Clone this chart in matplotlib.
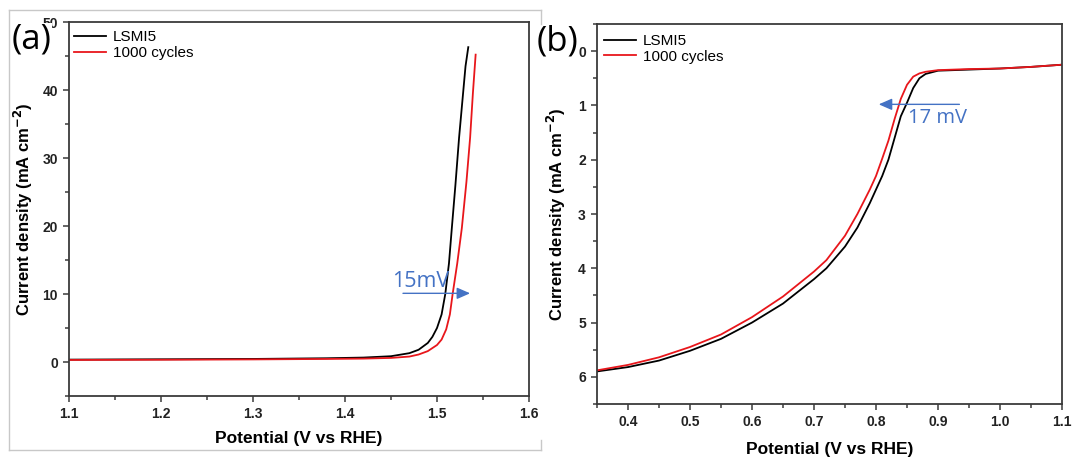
import matplotlib.pyplot as plt
from matplotlib.lines import Line2D
from matplotlib.ticker import MultipleLocator

plt.rcParams['font.family'] = ['Liberation Sans', 'DejaVu Sans']

# panel (a): OER polarisation
pot_a_lsmi = [1.10, 1.20, 1.30, 1.38, 1.42, 1.45, 1.47, 1.48, 1.49, 1.495, 1.50,
              1.505, 1.509, 1.513, 1.516, 1.520, 1.524, 1.528, 1.531, 1.534]
cur_a_lsmi = [0.35, 0.40, 0.45, 0.55, 0.65, 0.85, 1.3, 1.8, 2.8, 3.7, 5.0,
              7.0, 10.0, 14.5, 19.5, 26.0, 33.0, 39.0, 43.5, 46.3]
pot_a_cyc = [1.10, 1.20, 1.30, 1.38, 1.42, 1.45, 1.47, 1.48, 1.49, 1.50, 1.505,
             1.51, 1.514, 1.517, 1.522, 1.527, 1.532, 1.536, 1.539, 1.542]
cur_a_cyc = [0.30, 0.33, 0.38, 0.45, 0.50, 0.60, 0.80, 1.1, 1.6, 2.5, 3.3,
             4.8, 7.0, 10.0, 14.5, 19.7, 26.5, 33.0, 39.5, 45.2]

# panel (b): ORR polarisation (magnitude, axis inverted)
pot_b = [0.35, 0.40, 0.45, 0.50, 0.55, 0.60, 0.65, 0.70, 0.72, 0.75, 0.77, 0.79,
         0.80, 0.81, 0.82, 0.83, 0.84, 0.85, 0.86, 0.87, 0.88, 0.90, 0.95, 1.00,
         1.05, 1.10]
cur_b_lsmi = [5.90, 5.82, 5.70, 5.52, 5.30, 5.00, 4.65, 4.20, 4.00, 3.60, 3.25, 2.80,
              2.55, 2.30, 2.00, 1.60, 1.20, 0.95, 0.68, 0.50, 0.42, 0.36, 0.34, 0.32,
              0.29, 0.25]
cur_b_cyc = [5.88, 5.78, 5.64, 5.45, 5.22, 4.90, 4.52, 4.06, 3.85, 3.40, 3.00, 2.55,
             2.30, 1.98, 1.65, 1.25, 0.88, 0.62, 0.47, 0.41, 0.38, 0.35, 0.33, 0.32,
             0.29, 0.25]

labels = ['LSMI5', '1000 cycles']
colors = ['black', '#e8161b']
arrow_blue = '#4472c4'

W, H = 1072, 457
fig = plt.figure(figsize=(W / 100, H / 100), dpi=100)


def fx(px):
    return px / W


def fy(py):
    return 1 - py / H


def style(ax):
    for s in ax.spines.values():
        s.set_color('#3a3a3a')
        s.set_linewidth(1.3)
    ax.tick_params(which='both', direction='out', color='#3a3a3a', width=1.1,
                   labelsize=10, pad=4, top=False, right=False)
    ax.tick_params(which='major', length=4)
    ax.tick_params(which='minor', length=3)
    plt.setp(ax.get_xticklabels() + ax.get_yticklabels(), fontweight='bold', color='#222222')


ylab = r'Current density (mA cm$^{\mathbf{-2}}$)'

ax1 = fig.add_axes([fx(69), fy(396), fx(460), 374 / H])
ax1.plot(pot_a_lsmi, cur_a_lsmi, color=colors[0], lw=1.3, label=labels[0])
ax1.plot(pot_a_cyc, cur_a_cyc, color=colors[1], lw=1.3, label=labels[1])
ax1.set_xlim(1.1, 1.6)
ax1.set_ylim(-5, 50)
ax1.xaxis.set_major_locator(MultipleLocator(0.1))
ax1.xaxis.set_minor_locator(MultipleLocator(0.05))
ax1.yaxis.set_major_locator(MultipleLocator(10))
ax1.yaxis.set_minor_locator(MultipleLocator(5))
ax1.set_xlabel('Potential (V vs RHE)', fontsize=12.5, fontweight='bold', labelpad=7)
ax1.set_ylabel(ylab, fontsize=12, fontweight='bold', labelpad=5)
style(ax1)
ax1.legend(loc='upper left', bbox_to_anchor=(0.0, 0.99), frameon=False, fontsize=11,
           handlelength=2.1, handletextpad=0.45, labelspacing=0.1, borderpad=0.1,
           borderaxespad=0.2)
ax1.annotate('', xy=(1.539, 10.1), xytext=(1.46, 10.1),
             arrowprops=dict(arrowstyle='-|>,head_length=0.8,head_width=0.35',
                             color=arrow_blue, lw=1.0))
ax1.text(1.451, 11.0, '15mV', color=arrow_blue, fontsize=15.5, family='Open Sans',
         ha='left', va='baseline')

ax2 = fig.add_axes([fx(597), fy(404), fx(465), 380 / H])
ax2.plot(pot_b, cur_b_lsmi, color=colors[0], lw=1.3, label=labels[0])
ax2.plot(pot_b, cur_b_cyc, color=colors[1], lw=1.3, label=labels[1])
ax2.set_xlim(0.35, 1.1)
ax2.set_ylim(6.5, -0.5)
ax2.xaxis.set_major_locator(MultipleLocator(0.1))
ax2.xaxis.set_minor_locator(MultipleLocator(0.05))
ax2.yaxis.set_major_locator(MultipleLocator(1))
ax2.yaxis.set_minor_locator(MultipleLocator(0.5))
ax2.set_xlabel('Potential (V vs RHE)', fontsize=12.5, fontweight='bold', labelpad=9)
ax2.set_ylabel(ylab, fontsize=12, fontweight='bold', labelpad=7)
style(ax2)
ax2.legend(loc='upper left', bbox_to_anchor=(0.005, 0.985), frameon=False, fontsize=11,
           handlelength=2.1, handletextpad=0.45, labelspacing=0.1, borderpad=0.1,
           borderaxespad=0.2)
ax2.annotate('', xy=(0.80, 0.98), xytext=(0.939, 0.98),
             arrowprops=dict(arrowstyle='-|>,head_length=0.8,head_width=0.35',
                             color=arrow_blue, lw=1.0))
ax2.text(0.852, 1.33, '17 mV', color=arrow_blue, fontsize=14.5, family='Open Sans',
         ha='left', va='baseline')

# panel labels
fig.text(fx(32), fy(40), '(a)', fontsize=25, family='Open Sans', ha='center', va='center',
         bbox=dict(facecolor='white', edgecolor='none', pad=0))
fig.text(fx(557), fy(42), '(b)', fontsize=25, family='Open Sans', ha='center', va='center')

# light gray frame of the left picture
gray = '#c8c8c8'
for xs, ys in [([9, 541], [10, 10]), ([9, 9], [10, 450]), ([9, 541], [450, 450]),
               ([541, 541], [10, 24]), ([541, 541], [440, 450])]:
    fig.add_artist(Line2D([fx(x) for x in xs], [fy(y) for y in ys], color=gray, lw=1.0))

fig.savefig('out.png', dpi=100)
